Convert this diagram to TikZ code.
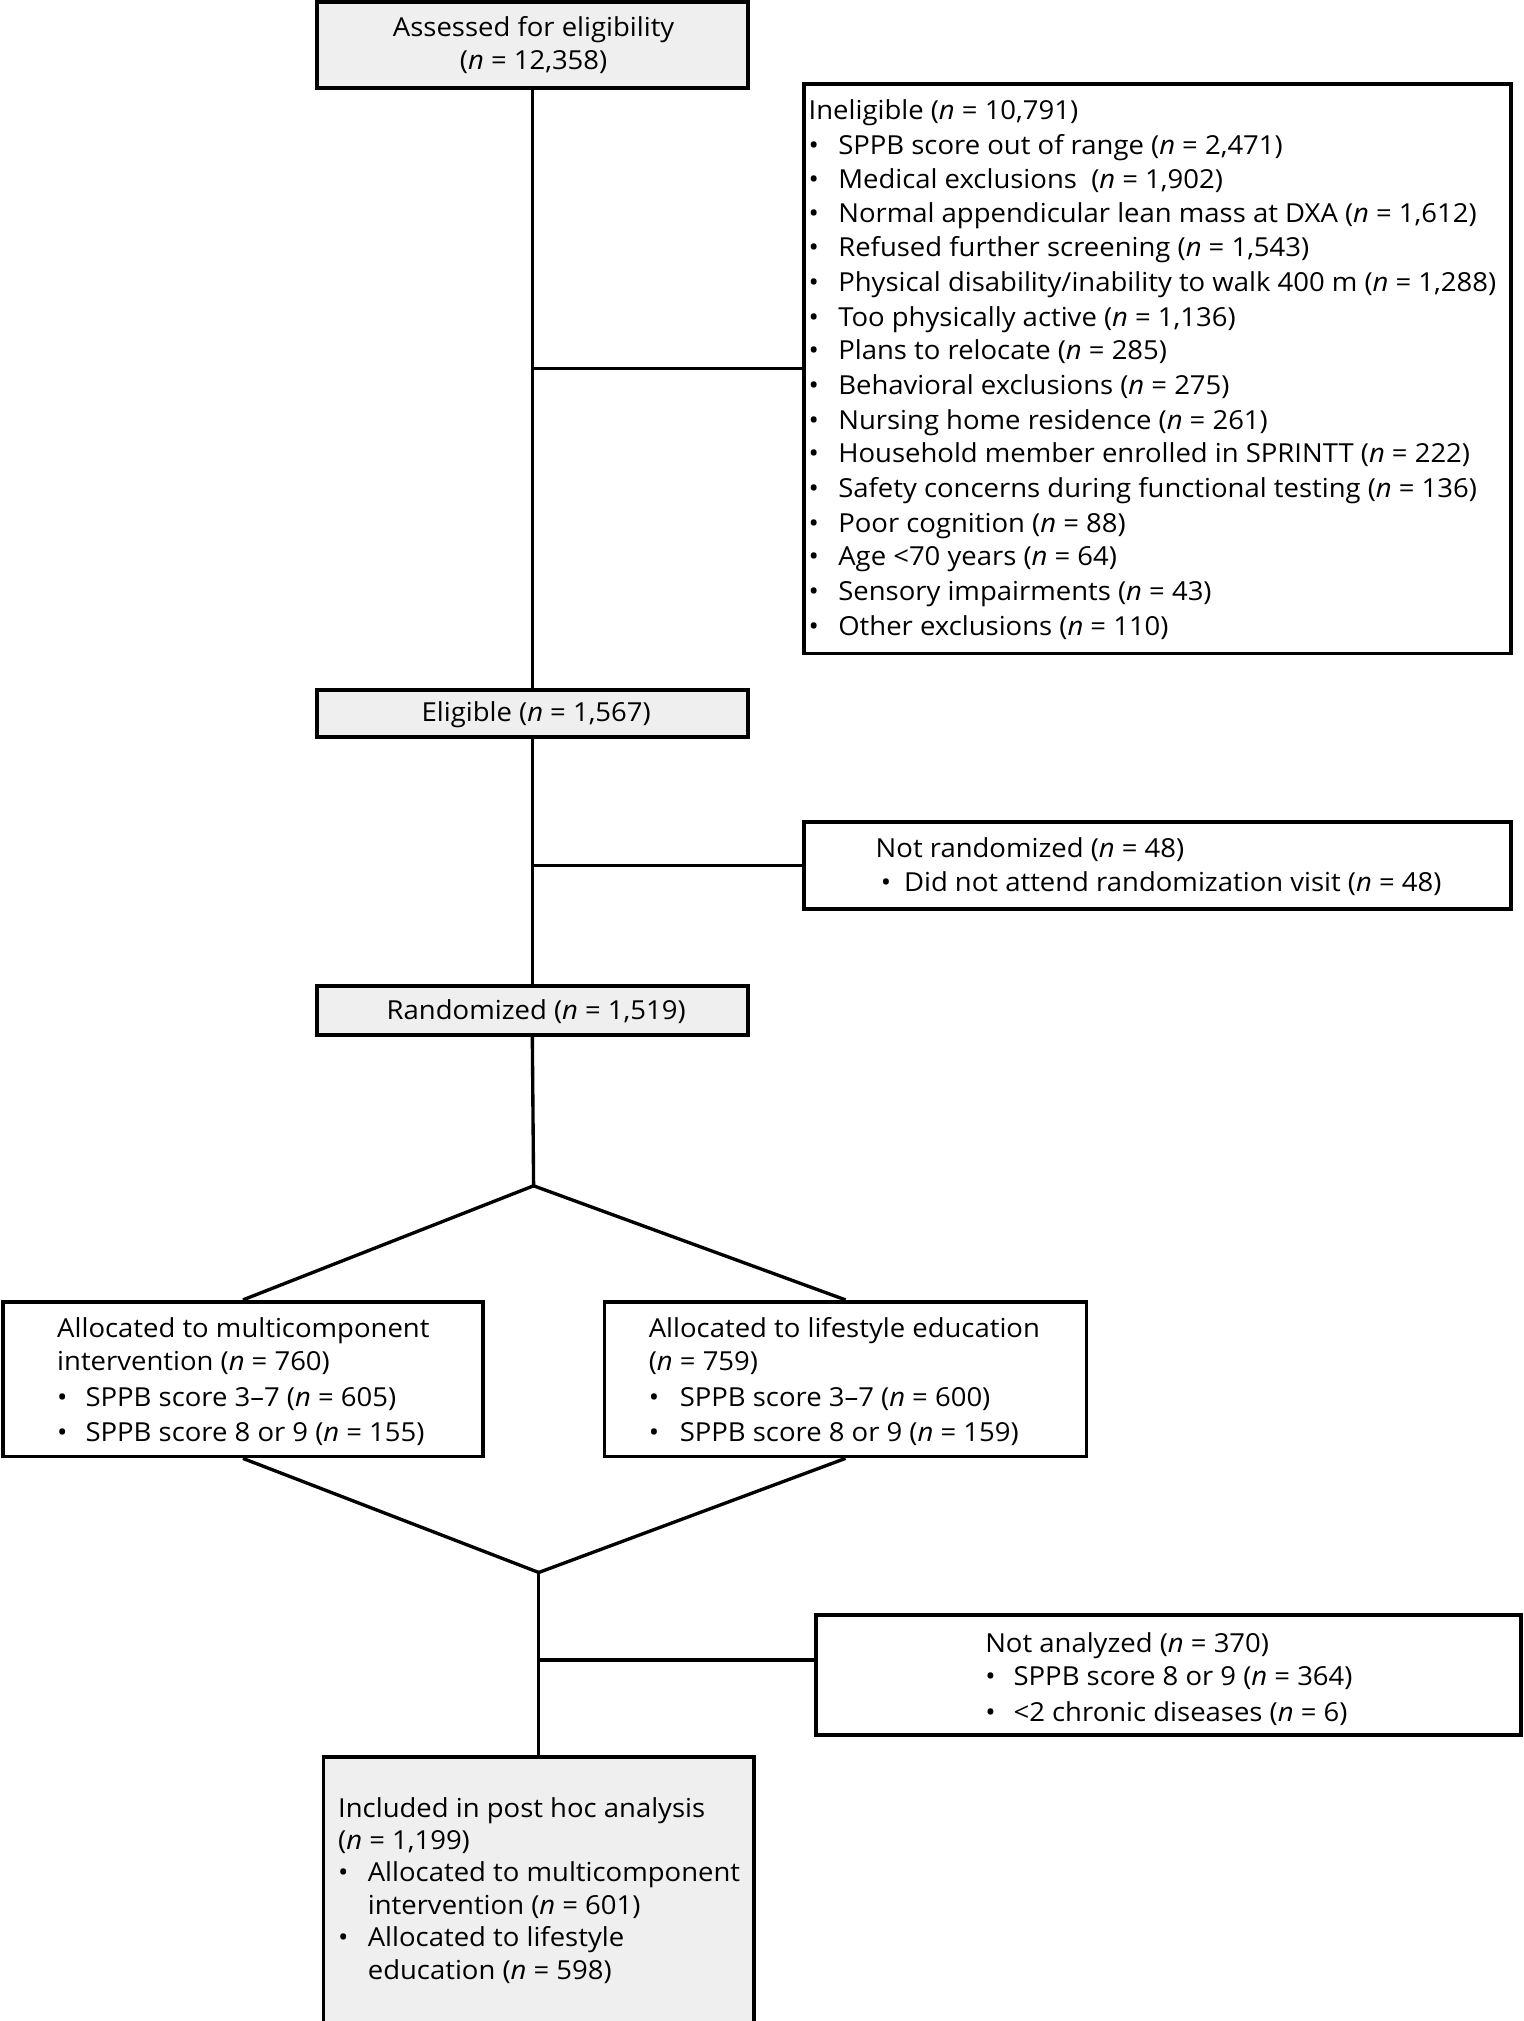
\documentclass[tikz,border=0pt]{standalone}
\usepackage{fontspec}
\setmainfont[FakeStretch=1.05]{Open Sans}
\usetikzlibrary{fit}
\definecolor{boxgray}{RGB}{239,239,239}
\begin{document}
\begin{tikzpicture}[x=0.5pt,y=-0.5pt,
  box/.style={draw, line width=1.5pt, inner sep=0pt},
  gbox/.style={box, fill=boxgray},
  conn/.style={line width=1.3pt},
  fnt/.style={inner sep=0pt, font=\fontsize{10.15pt}{13pt}\selectfont},
  txt/.style={fnt, anchor=base west},
  ctxt/.style={fnt, anchor=base},
  bul/.style={fnt, anchor=base west}]
\clip (0,0) rectangle (1182,1568);
% boxes
\node[gbox, fit={(246,1.5) (580,68)}] (top) {};
\node[box, fit={(624,65) (1172,507)}] (inel) {};
\node[gbox, fit={(246,535) (580,572)}] (elig) {};
\node[box, fit={(624,638) (1172,705)}] (notr) {};
\node[gbox, fit={(246,765) (580,803)}] (rand) {};
\node[box, fit={(2,1010) (375,1130)}] (allocA) {};
\node[box, fit={(469,1010) (843,1130)}] (allocB) {};
\node[box, fit={(633,1253) (1180,1346)}] (nota) {};
\node[gbox, fit={(251,1363) (585,1600)}] (incl) {};
\coordinate (split) at (414,920);
\coordinate (merge) at (418,1220);
\coordinate (jn) at (418,1288);
% connectors
\draw[conn] (top.south) -- (elig.north);
\draw[conn] (inel.west) -- (inel.west -| top.south);
\draw[conn] (elig.south) -- (rand.north);
\draw[conn] (notr.west) -- (notr.west -| elig.south);
\draw[conn] (rand.south) -- (split);
\draw[conn] (split) -- (allocA.north);
\draw[conn] (split) -- (allocB.north);
\draw[conn] (allocA.south) -- (merge);
\draw[conn] (allocB.south) -- (merge);
\draw[conn] (merge) -- (incl.north);
\draw[conn] (jn) -- (jn -| nota.west);
% texts
\node[ctxt] (t1) at (414,28) {Assessed for eligibility};
\node[ctxt] (t2) at (414,54) {(\textit{n} = 12,358)};
\node[txt] (i0) at (627,93) {Ineligible (\textit{n} = 10,791)};
\foreach \y/\t [count=\k] in {
 112/{SPPB score out of range (\textit{n} = 2,471)},
 138/{Medical exclusions \ (\textit{n} = 1,902)},
 165/{Normal appendicular lean mass at DXA (\textit{n} = 1,612)},
 191/{Refused further screening (\textit{n} = 1,543)},
 218/{Physical disability/inability to walk 400 m (\textit{n} = 1,288)},
 245/{Too physically active (\textit{n} = 1,136)},
 271/{Plans to relocate (\textit{n} = 285)},
 298/{Behavioral exclusions (\textit{n} = 275)},
 325/{Nursing home residence (\textit{n} = 261)},
 351/{Household member enrolled in SPRINTT (\textit{n} = 222)},
 378/{Safety concerns during functional testing (\textit{n} = 136)},
 405/{Poor cognition (\textit{n} = 88)},
 431/{Age <70 years (\textit{n} = 64)},
 458/{Sensory impairments (\textit{n} = 43)},
 485/{Other exclusions (\textit{n} = 110)}}{
  \node[bul] (ib\k) at (627,\y+8) {\textbullet};
  \node[txt] (it\k) at (650,\y+8) {\t};
}
\node[ctxt] (e1) at (416,560) {Eligible (\textit{n} = 1,567)};
\node[txt] (n1) at (679,665) {Not randomized (\textit{n} = 48)};
\node[bul] (n2b) at (683,692) {\textbullet};
\node[txt] (n2) at (701,692) {Did not attend randomization visit (\textit{n} = 48)};
\node[ctxt] (r1) at (416,791) {Randomized (\textit{n} = 1,519)};
\node[txt] (a1) at (44,1038) {Allocated to multicomponent};
\node[txt] (a2) at (44,1063) {intervention (\textit{n} = 760)};
\node[bul] (a3b) at (44,1091) {\textbullet};
\node[txt] (a3) at (66,1091) {SPPB score 3–7 (\textit{n} = 605)};
\node[bul] (a4b) at (44,1118) {\textbullet};
\node[txt] (a4) at (66,1118) {SPPB score 8 or 9 (\textit{n} = 155)};
\node[txt] (b1) at (503,1038) {Allocated to lifestyle education};
\node[txt] (b2) at (503,1063) {(\textit{n} = 759)};
\node[bul] (b3b) at (503,1091) {\textbullet};
\node[txt] (b3) at (527,1091) {SPPB score 3–7 (\textit{n} = 600)};
\node[bul] (b4b) at (503,1118) {\textbullet};
\node[txt] (b4) at (527,1118) {SPPB score 8 or 9 (\textit{n} = 159)};
\node[txt] (na1) at (764,1282) {Not analyzed (\textit{n} = 370)};
\node[bul] (na2b) at (764,1308) {\textbullet};
\node[txt] (na2) at (786,1308) {SPPB score 8 or 9 (\textit{n} = 364)};
\node[bul] (na3b) at (764,1336) {\textbullet};
\node[txt] (na3) at (786,1336) {<2 chronic diseases (\textit{n} = 6)};
\node[txt] (c1) at (262,1410) {Included in post hoc analysis};
\node[txt] (c2) at (262,1435) {(\textit{n} = 1,199)};
\node[bul] (c3b) at (262,1460) {\textbullet};
\node[txt] (c3) at (285,1460) {Allocated to multicomponent};
\node[txt] (c4) at (285,1485) {intervention (\textit{n} = 601)};
\node[bul] (c5b) at (262,1510) {\textbullet};
\node[txt] (c5) at (285,1510) {Allocated to lifestyle};
\node[txt] (c6) at (285,1536) {education (\textit{n} = 598)};
\end{tikzpicture}
\end{document}
